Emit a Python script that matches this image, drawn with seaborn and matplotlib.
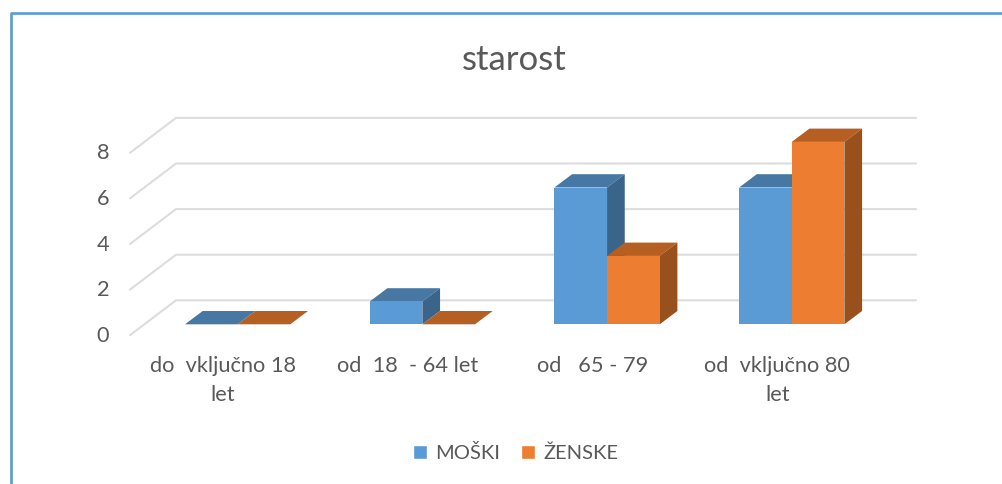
import numpy as np
import pandas as pd
import matplotlib
matplotlib.use('Agg')
import matplotlib.pyplot as plt
from matplotlib.lines import Line2D
from matplotlib.patches import Patch, Polygon
from matplotlib.transforms import Affine2D
import seaborn as sns

# Dati
kategorije = ['do  vključno 18\nlet', 'od  18  - 64 let', 'od   65 - 79', 'od  vključno 80\nlet']
moski = [0, 1, 6, 6]
zenske = [0, 0, 3, 8]
y_ticks = [0, 2, 4, 6, 8]

W, H = 1003, 484
MODRA, MODRA_TOP, MODRA_SIDE = '#5B9BD5', '#4777A3', '#3A648A'
ORANZNA, ORANZNA_TOP, ORANZNA_SIDE = '#ED7D31', '#B55F22', '#98501C'
SIVA = '#595959'

sns.set_theme(style='white')
plt.rcParams['font.family'] = ['Lato', 'DejaVu Sans']

df = pd.DataFrame({
    'kategorija': kategorije * 2,
    'vrednost': moski + zenske,
    'spol': ['MOŠKI'] * 4 + ['ŽENSKE'] * 4,
})

fig = plt.figure(figsize=(W / 100, H / 100), dpi=100)
# l'asse coincide con il piano frontale delle barre
ax = fig.add_axes([145.3 / W, 1 - 324.3 / H, 738.8 / W, 182.4 / H])
sns.barplot(data=df, x='kategorija', y='vrednost', hue='spol', palette=[MODRA, ORANZNA],
            width=0.57, gap=0, legend=False, ax=ax, zorder=5, linewidth=0, saturation=1)
ax.set_xlim(-0.5, 3.5)
ax.set_ylim(0, 8)
ax.set_xlabel('')
ax.set_ylabel('')
ax.set_yticks(y_ticks)
sns.despine(ax=ax, left=True, bottom=True, top=True, right=True)
ax.patch.set_alpha(0)
ax.tick_params(axis='both', length=0, labelcolor=SIVA, labelsize=15.7)
ax.tick_params(axis='y', pad=26)
ax.tick_params(axis='x', pad=23)
for lab in ax.get_xticklabels():
    lab.set_linespacing(1.55)
    lab.set_transform(lab.get_transform() + Affine2D().translate(-14.5, 0))
for lab in ax.get_yticklabels():
    lab.set_transform(lab.get_transform() + Affine2D().translate(0, -9.5))

# pareti: griglia sul fondo e sulla parete sinistra
fig.canvas.draw()
x0, x1 = ax.get_xlim()
for t in y_ticks:
    (xa, ya), (xb, _) = ax.transData.transform([(x0, t), (x1, t)])
    xs = [xa - 15.3, xa + 30.7, xb + 32]
    ys = [ya - 10.9, ya + 24, ya + 24]
    ax.add_line(Line2D(xs, ys, transform=Affine2D(), color='#DDDDDD', lw=1.5,
                       clip_on=False, zorder=1))

# finte facce 3D, ricavate da ogni barra
DX, DY = 17.7, 13.3
serie = [(ax.containers[0], MODRA_TOP, MODRA_SIDE, 3), (ax.containers[1], ORANZNA_TOP, ORANZNA_SIDE, 4)]
for cont, col_top, col_side, z in serie:
    for bar in cont:
        x, h, w = bar.get_x(), bar.get_height(), bar.get_width()
        (xa, ya), (xb, yt) = ax.transData.transform([(x, 0), (x + w, h)])
        top = [(xa, yt), (xb, yt), (xb + DX, yt + DY), (xa + DX, yt + DY)]
        ax.add_patch(Polygon(top, transform=Affine2D(), fc=col_top, ec='none', clip_on=False, zorder=z))
        if h > 0:
            side = [(xb, ya), (xb + DX, ya + DY), (xb + DX, yt + DY), (xb, yt)]
            ax.add_patch(Polygon(side, transform=Affine2D(), fc=col_side, ec='none', clip_on=False, zorder=z))

ax.set_xlim(x0, x1)
ax.set_ylim(0, 8)

fig.text(514 / W, 1 - 60 / H, 'starost', ha='center', va='center', fontsize=25, color=SIVA)

handles = [Patch(fc=MODRA, label='MOŠKI'), Patch(fc=ORANZNA, label='ŽENSKE')]
fig.legend(handles=handles, loc='center', bbox_to_anchor=(515.5 / W, 1 - 453 / H), ncol=2, frameon=False,
           fontsize=14.5, labelcolor=SIVA, handlelength=0.72, handleheight=0.72, handletextpad=0.4,
           columnspacing=1.0, borderpad=0)

# bordo della schermata
fig.add_artist(Line2D([11.5 / W, 11.5 / W, 1], [0, 1 - 12.5 / H, 1 - 12.5 / H], color=MODRA, lw=1.9))

fig.savefig('out.png', dpi=100)
